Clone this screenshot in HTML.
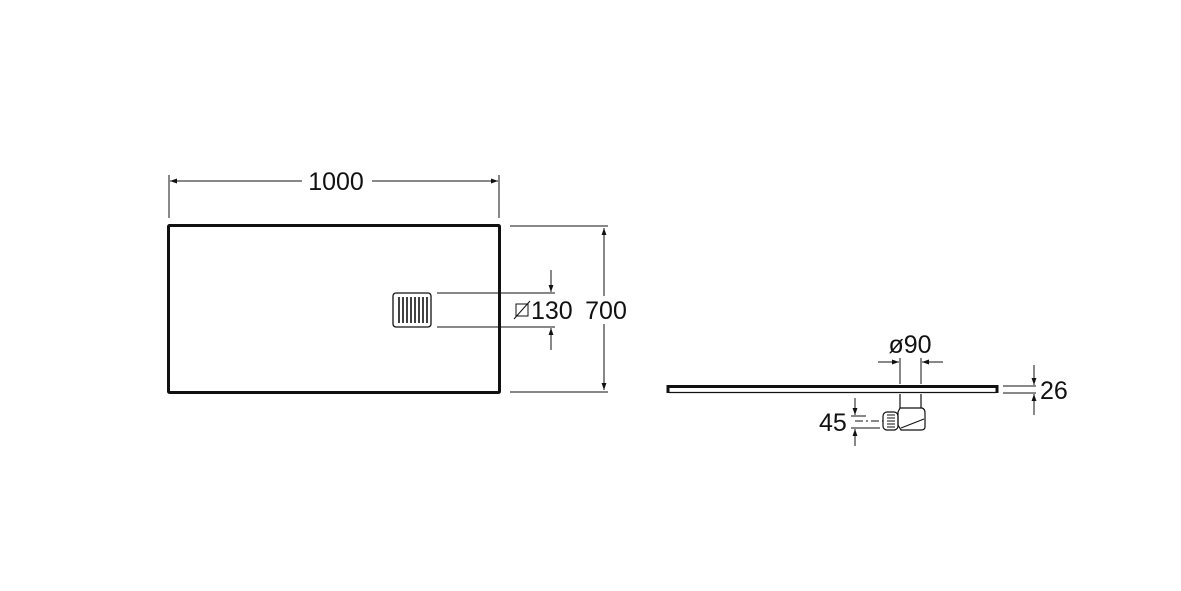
<!DOCTYPE html>
<html><head><meta charset="utf-8"><style>
html,body{margin:0;padding:0;background:#fff;}
svg{display:block}
text{font-family:"Liberation Sans",sans-serif;fill:#111;}
</style></head><body>
<svg width="1181" height="591" viewBox="0 0 1181 591" xmlns="http://www.w3.org/2000/svg">
<defs>
<marker id="a" viewBox="0 0 10 10" refX="10" refY="5" markerWidth="11" markerHeight="7" orient="auto-start-reverse" markerUnits="userSpaceOnUse">
<path d="M0,1.5 L10,5 L0,8.5 Z" fill="#111"/></marker>
</defs>
<g stroke="#111" fill="none" stroke-width="1">
<line x1="169" y1="175" x2="169" y2="218"/>
<line x1="499" y1="175" x2="499" y2="218"/>
<line x1="170" y1="181" x2="302" y2="181" marker-start="url(#a)"/>
<line x1="372" y1="181" x2="498" y2="181" marker-end="url(#a)"/>
<rect x="168.5" y="225.5" width="331" height="167" stroke-width="3" rx="1"/>
<line x1="510" y1="226" x2="608" y2="226"/>
<line x1="510" y1="392" x2="608" y2="392"/>
<line x1="604" y1="296" x2="604" y2="228" marker-end="url(#a)"/>
<line x1="604" y1="324" x2="604" y2="390" marker-end="url(#a)"/>
<rect x="393" y="293" width="38" height="34" rx="3" stroke-width="1.3"/>
<g stroke-width="1.6">
<line x1="399" y1="297" x2="399" y2="323"/><line x1="403" y1="297" x2="403" y2="323"/>
<line x1="407" y1="297" x2="407" y2="323"/><line x1="411" y1="297" x2="411" y2="323"/>
<line x1="415" y1="297" x2="415" y2="323"/><line x1="419" y1="297" x2="419" y2="323"/>
<line x1="423" y1="297" x2="423" y2="323"/><line x1="427" y1="297" x2="427" y2="323"/>
</g>
<line x1="437" y1="293" x2="555" y2="293"/>
<line x1="437" y1="327" x2="555" y2="327"/>
<line x1="551" y1="270" x2="551" y2="292" marker-end="url(#a)"/>
<line x1="551" y1="350" x2="551" y2="328" marker-end="url(#a)"/>
<path d="M668,393 L668,386.5 L997,386.5 L997,393" stroke-width="3"/>
<line x1="669" y1="392.5" x2="996" y2="392.5" stroke-width="1.3"/>
<line x1="900" y1="358" x2="900" y2="384"/>
<line x1="921" y1="358" x2="921" y2="384"/>
<line x1="878" y1="362" x2="899" y2="362" marker-end="url(#a)"/>
<line x1="943" y1="362" x2="922" y2="362" marker-end="url(#a)"/>
<path d="M900,394 L900,408 M921,394 L921,408" stroke-width="1.2"/>
<path d="M900,408 L922,408 Q925,409 925,413 L925,427 Q925,430 921,430 L901,430 L898,425 L898,412 Z" stroke-width="1.2"/>
<line x1="901" y1="428" x2="924" y2="419"/>
<rect x="883" y="412" width="15" height="18" rx="4" stroke-width="1.2"/>
<path d="M887,415 h8 M887,418 h8 M887,421 h8 M887,424 h8 M887,427 h8" stroke-width="1"/>
<line x1="855" y1="421" x2="883" y2="421" stroke-dasharray="8,3,2,3"/>
<line x1="851" y1="416" x2="866" y2="416"/>
<line x1="851" y1="428" x2="880" y2="428"/>
<line x1="855" y1="398" x2="855" y2="415" marker-end="url(#a)"/>
<line x1="855" y1="446" x2="855" y2="429" marker-end="url(#a)"/>
<line x1="1003" y1="386" x2="1036" y2="386"/>
<line x1="1003" y1="393" x2="1036" y2="393"/>
<line x1="1034" y1="365" x2="1034" y2="385" marker-end="url(#a)"/>
<line x1="1034" y1="415" x2="1034" y2="394" marker-end="url(#a)"/>
<rect x="516" y="304" width="12" height="12"/>
<line x1="514" y1="319" x2="530" y2="301"/>
</g>
<g font-size="25">
<text x="336" y="190" text-anchor="middle">1000</text>
<text x="606" y="319" text-anchor="middle">700</text>
<text x="531" y="319">130</text>
<text x="910" y="353" text-anchor="middle">ø90</text>
<text x="1040" y="399">26</text>
<text x="819" y="431">45</text>
</g>
</svg>
</body></html>
